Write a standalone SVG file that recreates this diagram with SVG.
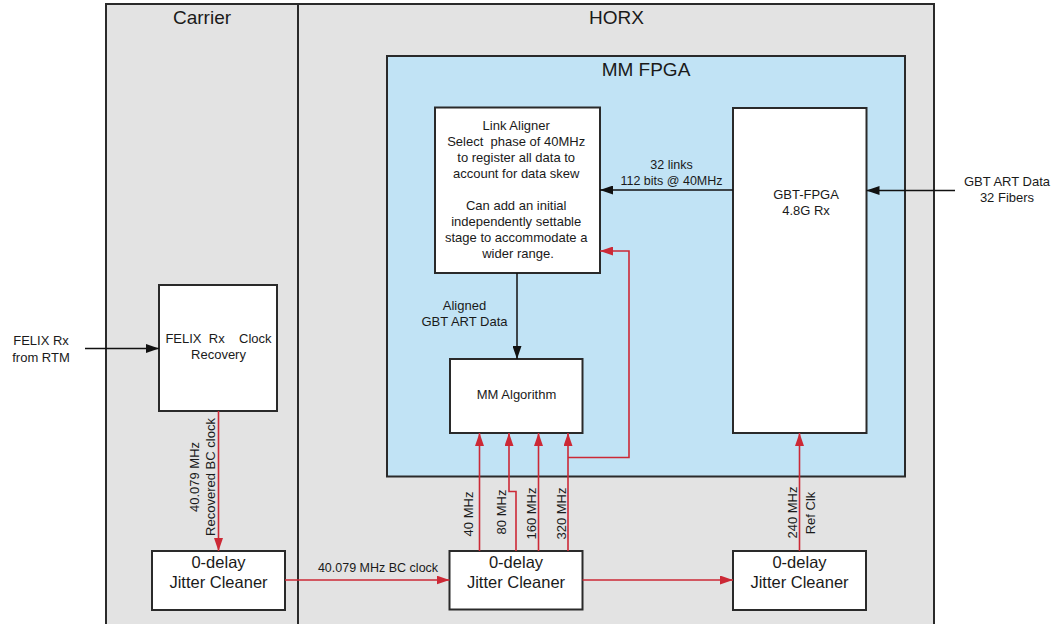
<svg xmlns="http://www.w3.org/2000/svg" width="1064" height="624" viewBox="0 0 1064 624">
  <style>
    text { font-family: "Liberation Sans", Arial, sans-serif; fill: #1a1a1a; }
    .frame { fill: #e3e3e3; stroke: #2a2a2a; stroke-width: 2; }
    .fpga { fill: #c1e3f5; stroke: #2a2a2a; stroke-width: 2; }
    .box { fill: #ffffff; stroke: #2a2a2a; stroke-width: 2; }
    .title { font-size: 19px; text-anchor: middle; }
    .body { font-size: 13px; text-anchor: middle; }
    .jc { font-size: 16.5px; text-anchor: middle; }
    .lbl { font-size: 12.5px; text-anchor: middle; }
    .vlbl { font-size: 13px; text-anchor: middle; }
    .data { fill: none; stroke: #111111; stroke-width: 1.5; marker-end: url(#head-black); }
    .clk { fill: none; stroke: #cc2936; stroke-width: 1.6; }
    .clk-arrow { marker-end: url(#head-red); }
  </style>
  <defs>
    <marker id="head-black" viewBox="0 0 13 9" refX="13" refY="4.5" markerWidth="13" markerHeight="9" markerUnits="userSpaceOnUse" orient="auto">
      <path d="M0,0 L13,4.5 L0,9 Z" fill="#111111"/>
    </marker>
    <marker id="head-red" viewBox="0 0 13 9" refX="13" refY="4.5" markerWidth="13" markerHeight="9" markerUnits="userSpaceOnUse" orient="auto">
      <path d="M0,0 L13,4.5 L0,9 Z" fill="#cc2936"/>
    </marker>
  </defs>

  <!-- board-level frames -->
  <g id="carrier">
    <rect class="frame" x="106" y="4" width="192" height="640"/>
    <text class="title" x="202" y="24">Carrier</text>
  </g>
  <g id="horx">
    <rect class="frame" x="298" y="4" width="636" height="640"/>
    <text class="title" x="616.5" y="24">HORX</text>
  </g>
  <g id="mm-fpga">
    <rect class="fpga" x="387" y="56" width="518" height="420.5"/>
    <text class="title" x="646" y="76">MM FPGA</text>
  </g>

  <!-- functional blocks -->
  <g id="link-aligner">
    <rect class="box" x="435" y="107.5" width="165" height="165.5"/>
    <text class="body">
      <tspan x="518" y="130">Link Aligner</tspan>
      <tspan x="518" y="146">Select&#160; phase of 40MHz</tspan>
      <tspan x="518" y="162">to register all data to</tspan>
      <tspan x="518" y="178">account for data skew</tspan>
      <tspan x="518" y="210">Can add an initial</tspan>
      <tspan x="518" y="226">independently settable</tspan>
      <tspan x="518" y="242">stage to accommodate a</tspan>
      <tspan x="518" y="258">wider range.</tspan>
    </text>
  </g>
  <g id="gbt-fpga">
    <rect class="box" x="733" y="108" width="133.5" height="325"/>
    <text class="body" x="806" y="199">GBT-FPGA</text>
    <text class="body" x="806" y="215">4.8G Rx</text>
  </g>
  <g id="mm-algorithm">
    <rect class="box" x="450" y="359" width="132.5" height="74"/>
    <text class="body" x="516.5" y="399">MM Algorithm</text>
  </g>
  <g id="felix-clock-recovery">
    <rect class="box" x="159" y="285" width="118" height="126"/>
    <text class="body" x="218.5" y="343">FELIX&#160; Rx&#160;&#160;&#160; Clock</text>
    <text class="body" x="218.5" y="359">Recovery</text>
  </g>
  <g id="jitter-cleaner-carrier">
    <rect class="box" x="152" y="551" width="133" height="59"/>
    <text class="jc" x="218.5" y="568">0-delay</text>
    <text class="jc" x="218.5" y="587.5">Jitter Cleaner</text>
  </g>
  <g id="jitter-cleaner-mm">
    <rect class="box" x="449.5" y="551" width="133" height="58.5"/>
    <text class="jc" x="516" y="568">0-delay</text>
    <text class="jc" x="516" y="587.5">Jitter Cleaner</text>
  </g>
  <g id="jitter-cleaner-ref">
    <rect class="box" x="733" y="551" width="133" height="59"/>
    <text class="jc" x="799.5" y="568">0-delay</text>
    <text class="jc" x="799.5" y="587.5">Jitter Cleaner</text>
  </g>

  <!-- data and clock connections -->
  <g id="connectors">
    <!-- data paths -->
    <path class="data" d="M85,348.5 L159,348.5"/>
    <path class="data" d="M955,190.5 L866.5,190.5"/>
    <path class="data" d="M733,190 L600,190"/>
    <path class="data" d="M517,273 L517,359"/>

    <!-- clock paths -->
    <path class="clk clk-arrow" d="M218.5,411 L218.5,551"/>
    <path class="clk clk-arrow" d="M285,580 L449.5,580"/>
    <path class="clk clk-arrow" d="M582.5,580 L733,580"/>
    <path class="clk clk-arrow" d="M799.5,551 L799.5,433"/>
    <path class="clk clk-arrow" d="M479.5,551 L479.5,433"/>
    <path class="clk clk-arrow" d="M516,551 L516,491.5 L509,491.5 L509,433"/>
    <path class="clk clk-arrow" d="M538.5,551 L538.5,433"/>
    <path class="clk clk-arrow" d="M568,551 L568,433"/>
    <path class="clk clk-arrow" d="M568,457.5 L629,457.5 L629,251 L600,251"/>

    <!-- connection labels -->
    <text class="body" x="41" y="345">FELIX Rx</text>
    <text class="body" x="41" y="361.5">from RTM</text>
    <text class="body" x="1007" y="186">GBT ART Data</text>
    <text class="body" x="1007" y="202">32 Fibers</text>
    <text class="lbl" x="671.5" y="169">32 links</text>
    <text class="lbl" x="671.5" y="185">112 bits @ 40MHz</text>
    <text class="body" x="464.5" y="310">Aligned</text>
    <text class="body" x="464.5" y="326">GBT ART Data</text>
    <text class="lbl" x="378" y="572">40.079 MHz BC clock</text>
    <text class="vlbl" transform="translate(199,477) rotate(-90)">40.079 MHz</text>
    <text class="vlbl" transform="translate(215,477) rotate(-90)">Recovered BC clock</text>
    <text class="vlbl" transform="translate(473,514) rotate(-90)">40 MHz</text>
    <text class="vlbl" transform="translate(506,512) rotate(-90)">80 MHz</text>
    <text class="vlbl" transform="translate(536,513.5) rotate(-90)">160 MHz</text>
    <text class="vlbl" transform="translate(566,513.5) rotate(-90)">320 MHz</text>
    <text class="vlbl" transform="translate(796.5,512.5) rotate(-90)">240 MHz</text>
    <text class="vlbl" transform="translate(815,513) rotate(-90)">Ref Clk</text>
  </g>
</svg>
